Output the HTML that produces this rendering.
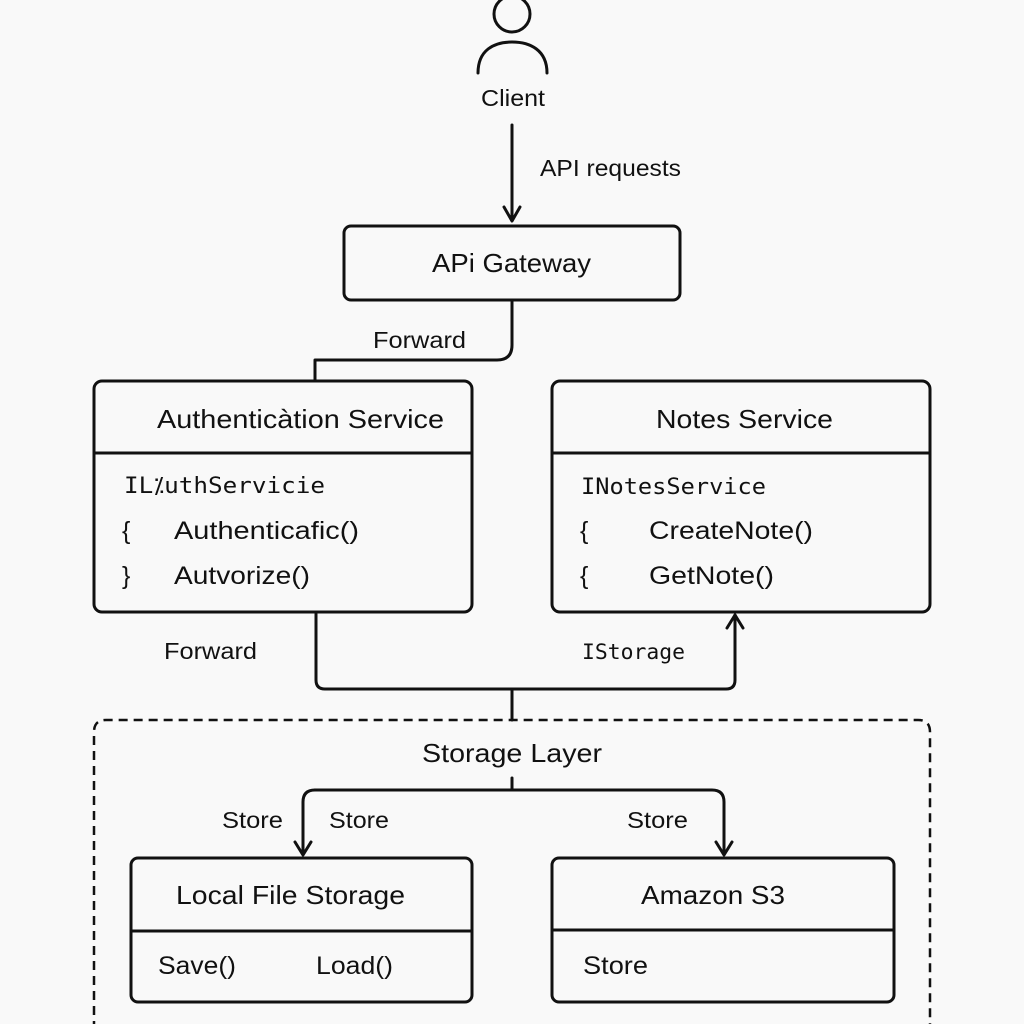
<!DOCTYPE html>
<html><head><meta charset="utf-8"><style>
html,body{margin:0;padding:0;background:#f9f9f9;}
svg{display:block;}
text{font-family:"Liberation Sans",sans-serif;fill:#111;}
.m{font-family:"DejaVu Sans Mono","Liberation Mono",monospace;}
</style></head><body>
<svg width="1024" height="1024" viewBox="0 0 1024 1024" xmlns="http://www.w3.org/2000/svg">
<rect width="1024" height="1024" fill="#f9f9f9"/>
<g fill="none" stroke="#111" stroke-width="3" stroke-linecap="round" stroke-linejoin="round">
<circle cx="512" cy="14" r="18"/>
<path d="M478 73 C478 50 494 42 512 42 C530 42 547 50 547 73"/>
<path d="M512 125 V220"/>
<path d="M504 207 L512 221 L520 207"/>
<rect x="344" y="226" width="336" height="74" rx="7"/>
<path d="M512 300 V345 Q512 360 497 360 H315 V381"/>
<rect x="94" y="381" width="378" height="231" rx="8"/>
<path d="M94 453 H472"/>
<rect x="552" y="381" width="378" height="231" rx="8"/>
<path d="M552 453 H930"/>
<path d="M316 614 V680 Q316 689 325 689 H726 Q735 689 735 680 V615"/>
<path d="M727 628 L735 615 L743 628"/>
<path d="M512 689 V720"/>
<path d="M512 778 V790"/>
<path d="M315 790 H712 Q724 790 724 802 V854"/>
<path d="M315 790 Q303 790 303 802 V854"/>
<path d="M295 842 L303 855 L311 842"/>
<path d="M716 842 L724 855 L732 842"/>
<rect x="131" y="858" width="341" height="144" rx="7"/>
<path d="M131 931 H472"/>
<rect x="552" y="858" width="342" height="144" rx="7"/>
<path d="M552 930 H894"/>
</g>
<path d="M94 1030 V732 Q94 720 106 720 H918 Q930 720 930 732 V1030" fill="none" stroke="#111" stroke-width="2.5" stroke-dasharray="9 6"/>
<g lengthAdjust="spacingAndGlyphs">
<text x="481" y="106" font-size="23" textLength="64" lengthAdjust="spacingAndGlyphs">Client</text>
<text x="540" y="176" font-size="23" textLength="141" lengthAdjust="spacingAndGlyphs">API requests</text>
<text x="432" y="272" font-size="26" textLength="159" lengthAdjust="spacingAndGlyphs">APi Gateway</text>
<text x="373" y="348" font-size="23" textLength="93" lengthAdjust="spacingAndGlyphs">Forward</text>
<text x="157" y="428" font-size="26" textLength="287" lengthAdjust="spacingAndGlyphs">Authenticàtion Service</text>
<text class="m" x="124" y="493" font-size="22" textLength="201" lengthAdjust="spacingAndGlyphs">IL⁒uthServicie</text>
<text x="122" y="539" font-size="25">{</text>
<text x="174" y="539" font-size="25" textLength="185" lengthAdjust="spacingAndGlyphs">Authenticafic()</text>
<text x="122" y="584" font-size="25">}</text>
<text x="174" y="584" font-size="25" textLength="136" lengthAdjust="spacingAndGlyphs">Autvorize()</text>
<text x="656" y="428" font-size="26" textLength="177" lengthAdjust="spacingAndGlyphs">Notes Service</text>
<text class="m" x="581" y="494" font-size="22" textLength="185" lengthAdjust="spacingAndGlyphs">INotesService</text>
<text x="580" y="539" font-size="25">{</text>
<text x="649" y="539" font-size="25" textLength="164" lengthAdjust="spacingAndGlyphs">CreateNote()</text>
<text x="580" y="584" font-size="25">{</text>
<text x="649" y="584" font-size="25" textLength="125" lengthAdjust="spacingAndGlyphs">GetNote()</text>
<text x="164" y="659" font-size="23" textLength="93" lengthAdjust="spacingAndGlyphs">Forward</text>
<text class="m" x="582" y="659" font-size="21" textLength="103" lengthAdjust="spacingAndGlyphs">IStorage</text>
<text x="422" y="762" font-size="26" textLength="180" lengthAdjust="spacingAndGlyphs">Storage Layer</text>
<text x="222" y="828" font-size="23" textLength="61" lengthAdjust="spacingAndGlyphs">Store</text>
<text x="329" y="828" font-size="23" textLength="60" lengthAdjust="spacingAndGlyphs">Store</text>
<text x="627" y="828" font-size="23" textLength="61" lengthAdjust="spacingAndGlyphs">Store</text>
<text x="176" y="904" font-size="26" textLength="229" lengthAdjust="spacingAndGlyphs">Local File Storage</text>
<text x="158" y="974" font-size="25" textLength="78" lengthAdjust="spacingAndGlyphs">Save()</text>
<text x="316" y="974" font-size="25" textLength="77" lengthAdjust="spacingAndGlyphs">Load()</text>
<text x="641" y="904" font-size="26" textLength="144" lengthAdjust="spacingAndGlyphs">Amazon S3</text>
<text x="583" y="974" font-size="25" textLength="65" lengthAdjust="spacingAndGlyphs">Store</text>
</g>
</svg>
</body></html>
